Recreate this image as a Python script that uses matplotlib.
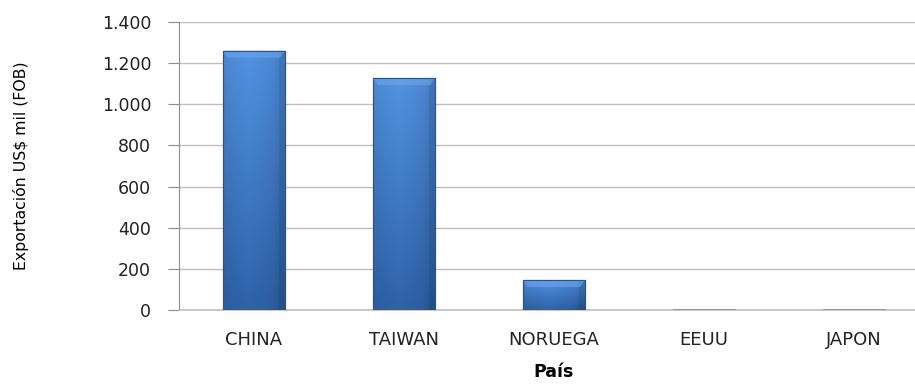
import numpy as np
import matplotlib
matplotlib.use("Agg")
import matplotlib.pyplot as plt

categories = ["CHINA", "TAIWAN", "NORUEGA", "EEUU", "JAPON"]
values = [1261, 1127, 146, 3, 3]
yticks = [0, 200, 400, 600, 800, 1000, 1200, 1400]
ytick_labels = ["0", "200", "400", "600", "800", "1.000", "1.200", "1.400"]

fig = plt.figure(figsize=(9.15, 3.85), dpi=100)
ax = fig.add_axes([179/915, 75/385, 750/915, 288/385])

x = np.arange(len(categories))
bars = ax.bar(x, values, width=0.41, color="#3B77C6", edgecolor="#27538F",
              linewidth=0.8, zorder=3)

# gradient fill clipped to each bar
ny, nx = 64, 64
yy, xx = np.mgrid[0:1:ny*1j, 0:1:nx*1j]
top = np.array([0x52, 0x92, 0xE2]) / 255
bot = np.array([0x2E, 0x63, 0xAA]) / 255
img = (top[None, None, :] * (yy[..., None]) + bot[None, None, :] * (1 - yy[..., None]))
edge = np.clip(1 - np.abs(xx - 0.42) * 2, 0, 1) ** 0.3
img = img * (0.8 + 0.2 * edge[..., None])
img = np.clip(img, 0, 1)
for b in bars:
    bx, by = b.get_x(), b.get_y()
    w, h = b.get_width(), b.get_height()
    if h < 20:
        b.set_facecolor("#7E9CC4")
        b.set_edgecolor("#7E9CC4")
        continue
    im = ax.imshow(img, extent=[bx, bx + w, by, by + h], origin="lower",
                   aspect="auto", zorder=3.5, interpolation="bilinear")
    im.set_clip_path(b)
    bev = 7 / 0.2056
    ax.fill([bx, bx + w, bx + w - 0.03, bx + 0.03],
            [by + h, by + h, by + h - bev, by + h - bev],
            color="#6EA6EA", alpha=0.6, zorder=3.6, lw=0)
    ax.bar(b.get_x() + w / 2, h, width=w, fill=False, edgecolor="#27538F",
           linewidth=0.8, zorder=3.7)

ax.set_xlim(-0.5, len(categories) - 0.5)
ax.set_ylim(0, 1400)
ax.set_yticks(yticks)
ax.set_yticklabels(ytick_labels)
ax.set_xticks(x)
ax.set_xticklabels(categories)

ax.yaxis.grid(True, color="#BFBFBF", linewidth=1.0, zorder=0)
ax.set_axisbelow(True)
for s in ["top", "right"]:
    ax.spines[s].set_visible(False)
ax.spines["left"].set_color("#8C8C8C")
ax.spines["bottom"].set_color("#BFBFBF")
ax.spines["bottom"].set_linewidth(1.2)
ax.tick_params(axis="y", length=8, color="#8C8C8C", pad=12, labelsize=12.5,
               labelcolor="#222222")
ax.tick_params(axis="x", length=0, pad=15, labelsize=13, labelcolor="#222222")

ax.set_xlabel("País", fontsize=12.5, fontweight="bold", labelpad=10)
ax.set_ylabel("Exportación US$ mil (FOB)", fontsize=11.3)
ax.yaxis.set_label_coords(-150/750, 0.5)

fig.savefig("out.png", dpi=100)
